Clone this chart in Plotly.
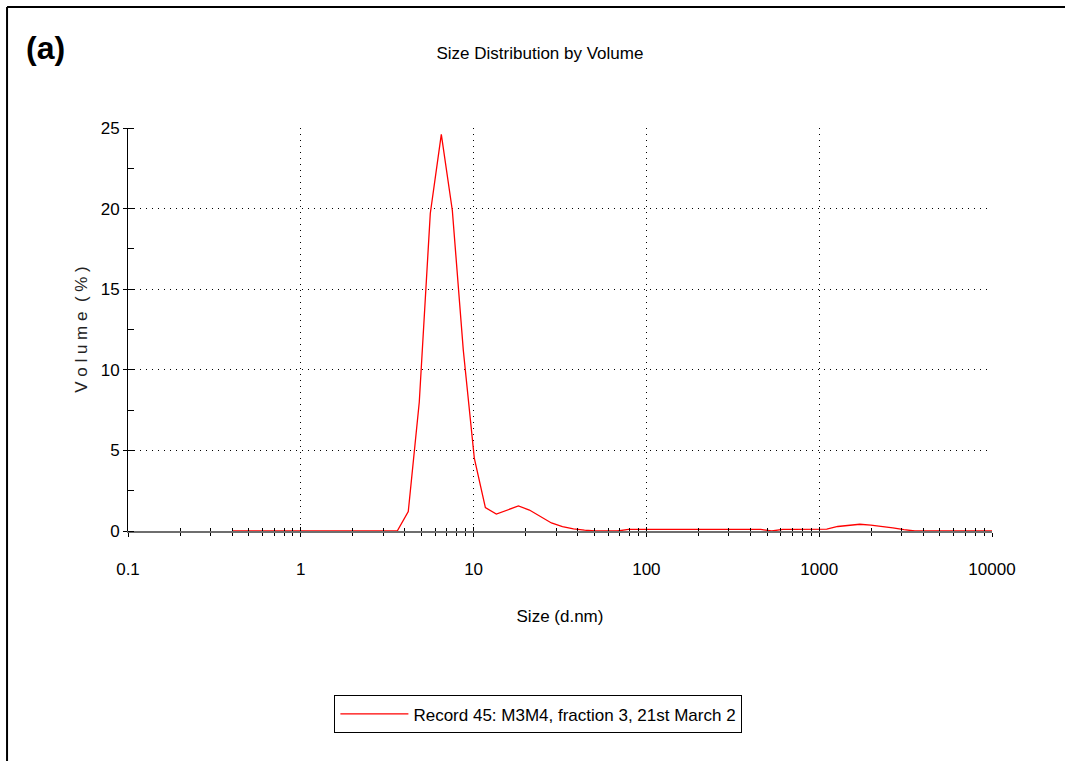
import plotly.graph_objects as go

# Size classes (d.nm) and volume (%)
size_nm = [0.4, 0.4632, 0.5365, 0.6213, 0.7195, 0.8332, 0.9649, 1.117, 1.294, 1.499,
           1.736, 2.01, 2.328, 2.696, 3.122, 3.615, 4.187, 4.849, 5.615, 6.503,
           7.531, 8.721, 10.1, 11.7, 13.54, 15.69, 18.17, 21.04, 24.36, 28.21,
           32.67, 37.84, 43.82, 50.75, 58.77, 68.06, 78.82, 91.28, 105.7, 122.4,
           141.8, 164.2, 190.1, 220.2, 255.0, 295.3, 342.0, 396.1, 458.7, 531.2,
           615.1, 712.4, 825.0, 955.4, 1106, 1281, 1484, 1718, 1990, 2305,
           2669, 3091, 3580, 4145, 4801, 5560, 6439, 7456, 8635, 10000]
volume_pct = [0, 0, 0, 0, 0, 0, 0, 0, 0, 0,
              0, 0, 0, 0, 0, 0, 1.2, 8.0, 19.7, 24.6,
              19.9, 11.2, 4.5, 1.45, 1.05, 1.3, 1.55, 1.3, 0.9, 0.5,
              0.27, 0.13, 0.05, 0, 0, 0, 0.1, 0.1, 0.1, 0.1,
              0.1, 0.1, 0.1, 0.1, 0.1, 0.1, 0.1, 0.1, 0.1, 0,
              0.1, 0.1, 0.1, 0.1, 0.12, 0.28, 0.35, 0.42, 0.36, 0.3,
              0.2, 0.08, 0, 0, 0, 0, 0, 0, 0, 0]

x_tickvals = [0.1, 1, 10, 100, 1000, 10000]
x_ticktext = ["0.1", "1", "10", "100", "1000", "10000"]
y_tickvals = [0, 5, 10, 15, 20, 25]
series_name = "Record 45: M3M4, fraction 3, 21st March 2"
chart_title = "Size Distribution by Volume"
x_title = "Size (d.nm)"
y_title = "V o l u m e  ( % )"
panel_label = "(a)"

minor_x = [m * 10 ** e for e in range(-1, 4) for m in range(2, 10)]

FONT = "Liberation Sans, Arial, sans-serif"
FS = 17

fig = go.Figure()
fig.add_trace(go.Scatter(
    x=size_nm, y=volume_pct, mode="lines", name=series_name,
    line=dict(color="#FF0000", width=1.3),
))
# helper trace so the overlaid tick axis is drawn (invisible)
fig.add_trace(go.Scatter(
    x=size_nm, y=volume_pct, mode="lines", xaxis="x2", showlegend=False,
    hoverinfo="skip", line=dict(color="rgba(0,0,0,0)", width=0),
))

grid_common = dict(showgrid=True, gridcolor="black", gridwidth=1, griddash="1px,5px")

fig.update_layout(
    width=1065, height=761,
    margin=dict(l=128, r=73, t=128, b=230),
    paper_bgcolor="white", plot_bgcolor="white",
    font=dict(family=FONT, color="black", size=FS),
    title=dict(text=chart_title, x=0.507, xanchor="center", y=0.930, yanchor="middle",
               font=dict(family=FONT, size=FS, color="black")),
    xaxis=dict(
        type="log", range=[-1, 4], tickmode="array", tickvals=x_tickvals, ticktext=x_ticktext,
        ticks="outside", ticklen=4, tickcolor="black", tickwidth=1,
        ticklabelstandoff=18,
        minor=dict(tickmode="array", tickvals=minor_x, ticks="outside", ticklen=3,
                   tickcolor="black", showgrid=False),
        showline=True, linecolor="#6e6e6e", linewidth=2, zeroline=False,
        tickfont=dict(family=FONT, size=FS, color="black"),
        title=dict(text=x_title, standoff=32, font=dict(family=FONT, size=FS, color="black")),
        **grid_common,
    ),
    xaxis2=dict(
        type="log", range=[-1, 4], overlaying="x", side="bottom", anchor="y",
        tickmode="array", tickvals=x_tickvals, ticktext=["" for _ in x_tickvals],
        ticks="inside", ticklen=4, tickcolor="black", showgrid=False, showline=False,
        minor=dict(tickmode="array", tickvals=minor_x, ticks="inside", ticklen=3,
                   tickcolor="black", showgrid=False),
        zeroline=False, showticklabels=False,
    ),
    yaxis=dict(
        range=[0, 25], tickmode="array", tickvals=y_tickvals,
        ticks="outside", ticklen=4, tickcolor="black",
        minor=dict(dtick=2.5, ticks="inside", ticklen=6, tickcolor="black", showgrid=False),
        showline=True, linecolor="black", linewidth=1, zeroline=False,
        tickfont=dict(family=FONT, size=FS, color="black"),
        title=dict(text=y_title, standoff=8, font=dict(family=FONT, size=FS, color="#222222")),
        **grid_common,
    ),
    showlegend=True,
    legend=dict(
        x=0.475, xanchor="center", y=-0.408, yanchor="top",
        bordercolor="black", borderwidth=1, bgcolor="white",
        font=dict(family=FONT, size=FS, color="black"),
        itemwidth=68,
    ),
)

fig.add_annotation(
    text="<b>" + panel_label + "</b>", xref="paper", yref="paper",
    x=-0.096, y=1.1985, xanchor="center", yanchor="middle", showarrow=False,
    font=dict(family="Liberation Sans, Arial, sans-serif", size=32, color="black"),
)

# outer frame lines (top and left) like the reference figure border
fig.add_shape(type="line", xref="paper", yref="paper", x0=-0.140, y0=1.300, x1=1.09, y1=1.300,
              line=dict(color="black", width=2))
fig.add_shape(type="line", xref="paper", yref="paper", x0=-0.140, y0=1.300, x1=-0.140, y1=-0.58,
              line=dict(color="black", width=2))

fig.write_html("out.html")
